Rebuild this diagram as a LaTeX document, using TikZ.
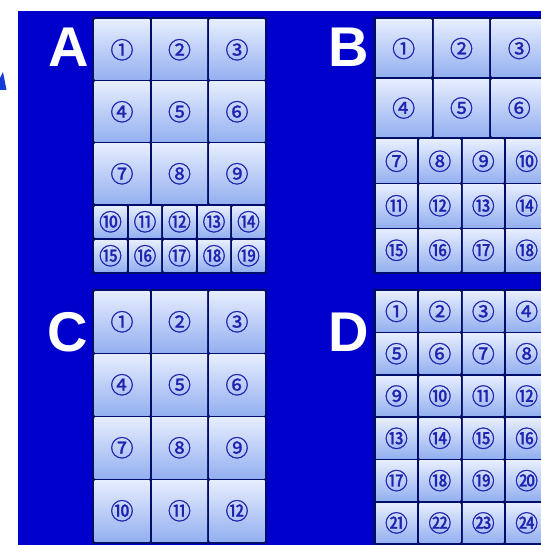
\documentclass[tikz,border=0pt]{standalone}
\usepackage{fontspec}
\setsansfont{Liberation Sans}
\newfontfamily\cjk[FakeBold=1.2]{Noto Sans CJK JP}
\usepackage{tikz}
\usetikzlibrary{fit,backgrounds}

\definecolor{bgblue}{RGB}{0,0,204}
\definecolor{navy}{RGB}{0,14,105}
\definecolor{celltop}{RGB}{230,237,254}
\definecolor{cellbot}{RGB}{148,176,240}
\definecolor{numblue}{RGB}{30,36,175}
\definecolor{tipblue}{RGB}{20,60,215}

% circled number n (1..24)
\newcommand{\circnum}[1]{\ifnum#1<21 \char\numexpr"245F+#1\relax\else\char\numexpr"323C+#1\relax\fi}

\begin{document}
\begin{tikzpicture}[x=1pt, y=-1pt,
    cell/.style={inner sep=0, top color=celltop, bottom color=cellbot,
      text=numblue, font=\cjk\fontsize{23}{23}\selectfont},
    frame/.style={fill=navy, inner sep=2.5pt},
    letter/.style={text=white, inner sep=0,
      font=\sffamily\bfseries\fontsize{56}{56}\selectfont}]
  \useasboundingbox (0,0) rectangle (540,545);

  % A
  \foreach \r in {0,1,2}
    \foreach \c in {0,1,2} {
      \pgfmathtruncatemacro\n{3*\r+\c+1}
      \node[cell, minimum width=55, minimum height=59.5] (a\n) at ({122+57.5*\c}, {49.75+62*\r}) {\circnum{\n}};
    }
  \foreach \r in {0,1}
    \foreach \c in {0,...,4} {
      \pgfmathtruncatemacro\n{5*\r+\c+10}
      \node[cell, minimum width=32, minimum height=31.5] (a\n) at ({110.5+34.5*\c}, {221.75+34*\r}) {\circnum{\n}};
    }
  \node[letter] (la) at (68.5,47.5) {A};

  % B
  \foreach \r in {0,1}
    \foreach \c in {0,1,2} {
      \pgfmathtruncatemacro\n{3*\r+\c+1}
      \node[cell, minimum width=55.3, minimum height=57] (b\n) at ({403.65+57.8*\c}, {48.5+59.5*\r}) {\circnum{\n}};
    }
  \foreach \r in {0,1,2}
    \foreach \c in {0,...,3} {
      \pgfmathtruncatemacro\n{4*\r+\c+7}
      \node[cell, minimum width=40.9, minimum height=42.5] (b\n) at ({396.45+43.4*\c}, {161.25+44.5*\r}) {\circnum{\n}};
    }
  \node[letter] (lb) at (349,47.5) {B};

  % C
  \foreach \r in {0,...,3}
    \foreach \c in {0,1,2} {
      \pgfmathtruncatemacro\n{3*\r+\c+1}
      \node[cell, minimum width=55, minimum height=60.5] (c\n) at ({122+57.5*\c}, {321.75+63*\r}) {\circnum{\n}};
    }
  \node[letter] (lc) at (67.5,332.5) {C};

  % D
  \foreach \r in {0,...,5}
    \foreach \c in {0,...,3} {
      \pgfmathtruncatemacro\n{4*\r+\c+1}
      \node[cell, minimum width=40.9, minimum height=39.8] (d\n) at ({396.45+43.4*\c}, {311.4+42.3*\r}) {\circnum{\n}};
    }
  \node[letter] (ld) at (349,332.5) {D};

  \begin{scope}[on background layer]
    \fill[white] (0,0) rectangle (540,545);
    \fill[bgblue] (18,11) rectangle (560,560);
    \fill[tipblue] (0,78) -- (3,72) -- (6.5,90) -- (0,90) -- cycle;
    \node[frame, fit=(a1)(a19)] (fa) {};
    \node[frame, fit=(b1)(b18)] (fb) {};
    \node[frame, fit=(c1)(c12)] (fc) {};
    \node[frame, fit=(d1)(d24)] (fd) {};
  \end{scope}
\end{tikzpicture}
\end{document}
